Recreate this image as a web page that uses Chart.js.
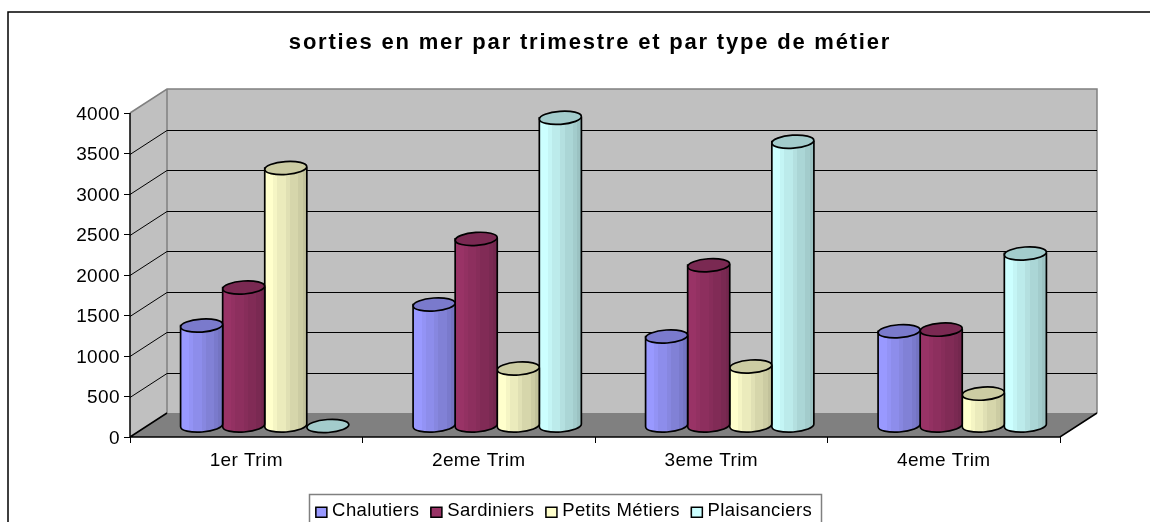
<!DOCTYPE html>
<html>
<head>
<meta charset="utf-8">
<script src="https://cdn.jsdelivr.net/npm/chart.js@4/dist/chart.umd.js"></script>
<style>
  html, body { margin: 0; padding: 0; background: #fff; overflow: hidden; }
  #wrap { position: relative; width: 1150px; height: 522px; }
</style>
</head>
<body>
<div id="wrap"><canvas id="chart"></canvas></div>
<script>
const categories = ['1er Trim', '2eme Trim', '3eme Trim', '4eme Trim'];
const seriesNames = ['Chalutiers', 'Sardiniers', 'Petits Métiers', 'Plaisanciers'];
const chalutiers = [1240, 1500, 1105, 1170];
const sardiniers = [1710, 2310, 1985, 1190];
const petitsMetiers = [3185, 710, 735, 400];
const plaisanciers = [0, 3805, 3510, 2130];
const seriesColors = ['#9999ff', '#993366', '#ffffcc', '#ccffff'];

const FONT = '"Liberation Sans", Arial, sans-serif';
// depth of the fake 3d box
const DEPTH_X = 37;
const DEPTH_Y = -24;
const TEXT_SPACING = '0.4px';
const TITLE_SPACING = '1.8px';
const LEGEND_SHIFT = 34;

function shade(hex, k) {
    const n = parseInt(hex.slice(1), 16);
    const r = Math.round((n >> 16) * k);
    const g = Math.round(((n >> 8) & 255) * k);
    const b = Math.round((n & 255) * k);
    return `rgb(${r},${g},${b})`;
}

// bar element drawn as a cylinder standing in the middle of the box
class CylinderElement extends Chart.BarElement {
    draw(ctx) {
        const { x, y, base, width } = this.getProps(['x', 'y', 'base', 'width'], false);
        const color = this.options.backgroundColor;
        const cx = x + DEPTH_X / 2;
        const top = y + DEPTH_Y / 2 + 1;
        const bottom = base + DEPTH_Y / 2 + 1;
        const rx = width / 2;
        const ry = 6.5;
        const left = cx - rx;
        const right = cx + rx;
        const tilt = -0.07;

        ctx.save();
        ctx.lineWidth = 1.7;
        ctx.strokeStyle = '#000';

        if (top < bottom - 0.5) {
            const grad = ctx.createLinearGradient(left, 0, right, 0);
            const bands = [1, 1, 0.96, 0.92, 0.92, 0.88, 0.84, 0.84, 0.8, 0.76];
            bands.forEach((k, i) => {
                grad.addColorStop(i / bands.length, shade(color, k));
                grad.addColorStop((i + 1) / bands.length, shade(color, k));
            });
            ctx.beginPath();
            ctx.moveTo(left, top);
            ctx.lineTo(left, bottom);
            ctx.ellipse(cx, bottom, rx, ry, tilt, Math.PI, 0, true);
            ctx.lineTo(right, top);
            ctx.closePath();
            ctx.fillStyle = grad;
            ctx.fill();
            ctx.stroke();
        }

        ctx.beginPath();
        ctx.ellipse(cx, top, rx, ry, tilt, 0, Math.PI * 2);
        ctx.fillStyle = shade(color, 0.8);
        ctx.fill();
        ctx.stroke();
        ctx.restore();
    }
}
CylinderElement.id = 'cylinder';
CylinderElement.defaults = Chart.BarElement.defaults;
CylinderElement.defaultRoutes = Chart.BarElement.defaultRoutes;

class CylinderController extends Chart.BarController {}
CylinderController.id = 'cylinderBar';
CylinderController.defaults = { ...Chart.BarController.defaults, dataElementType: 'cylinder' };
CylinderController.overrides = Chart.BarController.overrides;

Chart.register(CylinderElement, CylinderController);

// walls, floor and gridlines of the box
const boxPlugin = {
    id: 'box',
    afterLayout(chart) {
        // title and legend are not centred on the plot in the reference
        const title = chart.titleBlock;
        title.left += 60;
        title.right += 60;
        if (!title.spacedDraw) {
            const drawTitle = title.draw;
            title.draw = function () {
                const c = this.ctx;
                c.letterSpacing = TITLE_SPACING;
                drawTitle.call(this);
                c.letterSpacing = TEXT_SPACING;
            };
            title.spacedDraw = true;
        }
        const legend = chart.legend;
        legend.left += LEGEND_SHIFT;
        legend.right += LEGEND_SHIFT;
        legend.top += 1;
        legend.bottom += 1;
        legend.legendHitBoxes.forEach(box => {
            box.left += LEGEND_SHIFT;
            box.top += 1;
        });
    },
    beforeDatasetsDraw(chart) {
        const { ctx, chartArea: a, scales: { y } } = chart;
        const dx = DEPTH_X, dy = DEPTH_Y;
        ctx.save();

        // back wall
        ctx.fillStyle = '#c0c0c0';
        ctx.fillRect(a.left + dx, a.top + dy, a.right - a.left, a.bottom - a.top);
        // side wall
        ctx.beginPath();
        ctx.moveTo(a.left, a.top);
        ctx.lineTo(a.left + dx, a.top + dy);
        ctx.lineTo(a.left + dx, a.bottom + dy);
        ctx.lineTo(a.left, a.bottom);
        ctx.closePath();
        ctx.fill();
        // floor
        ctx.fillStyle = '#808080';
        ctx.beginPath();
        ctx.moveTo(a.left, a.bottom);
        ctx.lineTo(a.left + dx, a.bottom + dy);
        ctx.lineTo(a.right + dx, a.bottom + dy);
        ctx.lineTo(a.right, a.bottom);
        ctx.closePath();
        ctx.fill();

        // wall outlines
        ctx.strokeStyle = '#808080';
        ctx.lineWidth = 1.5;
        ctx.beginPath();
        ctx.moveTo(a.left, a.top);
        ctx.lineTo(a.left + dx, a.top + dy);
        ctx.lineTo(a.right + dx, a.top + dy);
        ctx.lineTo(a.right + dx, a.bottom + dy);
        ctx.moveTo(a.left + dx, a.top + dy);
        ctx.lineTo(a.left + dx, a.bottom + dy);
        ctx.stroke();

        // gridlines follow the y ticks around the walls
        ctx.strokeStyle = '#000';
        ctx.lineWidth = 1;
        y.ticks.forEach(t => {
            if (t.value === 0 || t.value === y.max) return;
            const py = Math.round(y.getPixelForValue(t.value)) + 0.5;
            ctx.beginPath();
            ctx.moveTo(a.left, py);
            ctx.lineTo(a.left + dx, py + dy);
            ctx.lineTo(a.right + dx, py + dy);
            ctx.stroke();
        });

        // front axis lines
        ctx.strokeStyle = '#000';
        ctx.lineWidth = 1.5;
        ctx.beginPath();
        ctx.moveTo(a.left, a.top);
        ctx.lineTo(a.left, a.bottom);
        ctx.lineTo(a.right, a.bottom);
        ctx.lineTo(a.right + dx, a.bottom + dy);
        ctx.moveTo(a.left, a.bottom);
        ctx.lineTo(a.left + dx, a.bottom + dy);
        ctx.stroke();
        ctx.restore();
    },
    afterDraw(chart) {
        const { ctx, legend } = chart;
        ctx.save();
        // outer chart frame, only top and left are inside the window
        ctx.strokeStyle = '#000';
        ctx.lineWidth = 1.5;
        ctx.beginPath();
        ctx.moveTo(8, 530);
        ctx.lineTo(8, 12);
        ctx.lineTo(1150, 12);
        ctx.stroke();
        // legend frame
        ctx.strokeStyle = '#808080';
        ctx.strokeRect(309.5, 494.5, 512, 40);
        // legend swatches are wider than the gap chart.js leaves for them
        legend.legendHitBoxes.forEach((box, i) => {
            ctx.fillStyle = seriesColors[i];
            ctx.strokeStyle = '#000';
            ctx.lineWidth = 1.5;
            ctx.fillRect(box.left, box.top + box.height / 2 - 5, 11, 10);
            ctx.strokeRect(box.left, box.top + box.height / 2 - 5, 11, 10);
        });
        ctx.restore();
    }
};

// text in the reference is a little spread out
const spacingPlugin = {
    id: 'spacing',
    beforeUpdate(chart) { chart.ctx.letterSpacing = TEXT_SPACING; },
    beforeDraw(chart) { chart.ctx.letterSpacing = TEXT_SPACING; }
};

const datasets = [chalutiers, sardiniers, petitsMetiers, plaisanciers].map((values, i) => ({
    label: seriesNames[i],
    data: values,
    backgroundColor: seriesColors[i],
    borderColor: '#000',
    borderWidth: 1,
    clip: false
}));

new Chart(document.getElementById('chart'), {
    type: 'cylinderBar',
    data: { labels: categories, datasets },
    plugins: [spacingPlugin, boxPlugin],
    options: {
        responsive: true,
        maintainAspectRatio: false,
        animation: false,
        categoryPercentage: 0.724,
        barPercentage: 1,
        layout: { padding: { left: 0, right: 90, top: 0, bottom: -7.5 } },
        plugins: {
            tooltip: { enabled: false },
            title: {
                display: true,
                text: 'sorties en mer par trimestre et par type de métier',
                color: '#000',
                font: { family: FONT, size: 22, weight: 'bold', lineHeight: 1.2 },
                padding: { top: 29.5, bottom: 57.1 }
            },
            legend: {
                position: 'bottom',
                onClick: null,
                labels: {
                    color: '#000',
                    font: { family: FONT, size: 18.5 },
                    boxWidth: 7,
                    boxHeight: 7,
                    padding: 11.5
                }
            }
        },
        scales: {
            x: {
                grid: { drawOnChartArea: false, color: '#000', tickLength: 6 },
                border: { display: false },
                ticks: { color: '#000', font: { family: FONT, size: 19 }, padding: 6.6, maxRotation: 0 },
                afterFit(s) { s.height = 52.5; }
            },
            y: {
                min: 0,
                max: 4000,
                grid: { drawOnChartArea: false, color: '#000', tickLength: 6 },
                border: { display: false },
                ticks: {
                    stepSize: 500,
                    color: '#000',
                    font: { family: FONT, size: 19 },
                    padding: 4,
                    labelOffset: 1.5,
                    callback: v => String(v)
                },
                afterFit(s) { s.width = 130; }
            }
        }
    }
});
</script>
</body>
</html>
